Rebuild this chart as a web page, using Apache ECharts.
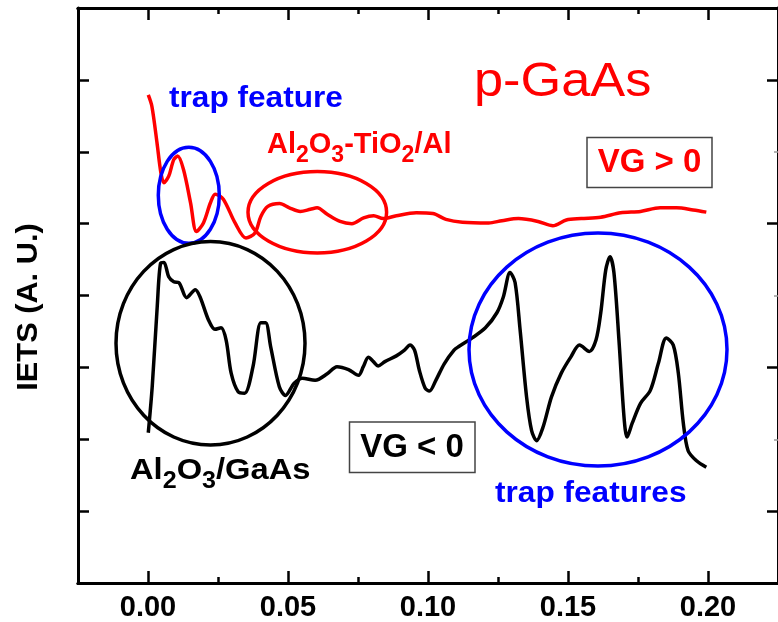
<!DOCTYPE html>
<html>
<head>
<meta charset="utf-8">
<script src="https://cdn.jsdelivr.net/npm/echarts@6/dist/echarts.min.js"></script>
<style>
  html, body { margin: 0; padding: 0; background: #fff; }
  #main { width: 778px; height: 622px; }
</style>
</head>
<body>
<div id="main"></div>
<script>
// 数据：横轴电压（V），纵轴 IETS（任意单位）
var redX = [0.0001, 0.0014, 0.0032, 0.0046, 0.0057, 0.0074, 0.0092, 0.0106, 0.0127, 0.0152, 0.0173, 0.0198, 0.0223, 0.0240, 0.0269, 0.0311, 0.0350, 0.0382, 0.0403, 0.0428, 0.0470, 0.0505, 0.0544, 0.0580, 0.0604, 0.0640, 0.0686, 0.0728, 0.0770, 0.0806, 0.0840, 0.0887, 0.0958, 0.1017, 0.1064, 0.1123, 0.1217, 0.1264, 0.1323, 0.1393, 0.1446, 0.1494, 0.1547, 0.1617, 0.1688, 0.1759, 0.1829, 0.1888, 0.1947, 0.1994];
var redY = [6.79, 6.63, 6.13, 5.71, 5.57, 5.66, 5.89, 5.94, 5.75, 5.29, 4.89, 5.01, 5.29, 5.41, 5.34, 5.01, 4.80, 4.87, 5.10, 5.24, 5.28, 5.22, 5.17, 5.20, 5.22, 5.13, 5.03, 5.00, 5.08, 5.11, 5.07, 5.11, 5.15, 5.14, 5.06, 5.02, 5.01, 5.04, 5.07, 5.03, 4.97, 5.05, 5.07, 5.09, 5.15, 5.17, 5.22, 5.22, 5.19, 5.16];

var blackX = [0.0001, 0.0015, 0.0033, 0.0045, 0.0057, 0.0074, 0.0092, 0.0110, 0.0138, 0.0169, 0.0186, 0.0216, 0.0239, 0.0261, 0.0279, 0.0297, 0.0322, 0.0345, 0.0375, 0.0403, 0.0420, 0.0438, 0.0469, 0.0491, 0.0522, 0.0551, 0.0597, 0.0640, 0.0675, 0.0716, 0.0752, 0.0769, 0.0787, 0.0805, 0.0822, 0.0846, 0.0887, 0.0916, 0.0936, 0.0952, 0.0969, 0.0990, 0.1005, 0.1028, 0.1058, 0.1093, 0.1110, 0.1158, 0.1205, 0.1246, 0.1269, 0.1293, 0.1311, 0.1329, 0.1352, 0.1370, 0.1388, 0.1411, 0.1441, 0.1476, 0.1511, 0.1541, 0.1576, 0.1600, 0.1617, 0.1635, 0.1650, 0.1664, 0.1682, 0.1700, 0.1711, 0.1729, 0.1759, 0.1794, 0.1823, 0.1851, 0.1876, 0.1894, 0.1912, 0.1929, 0.1959, 0.1994];
var blackY = [2.09, 2.73, 3.85, 4.45, 4.46, 4.26, 4.19, 4.18, 3.97, 4.08, 3.98, 3.66, 3.53, 3.55, 3.38, 2.92, 2.66, 2.64, 3.01, 3.62, 3.62, 3.29, 2.73, 2.61, 2.78, 2.85, 2.82, 2.91, 3.01, 2.97, 2.89, 3.01, 3.14, 3.08, 3.02, 3.08, 3.16, 3.24, 3.31, 3.24, 2.96, 2.71, 2.67, 2.82, 3.05, 3.24, 3.29, 3.41, 3.55, 3.76, 3.98, 4.32, 4.18, 3.52, 2.59, 2.12, 1.98, 2.17, 2.59, 2.92, 3.15, 3.31, 3.22, 3.38, 3.76, 4.36, 4.54, 4.32, 3.38, 2.31, 2.03, 2.22, 2.50, 2.68, 3.06, 3.41, 3.31, 2.92, 2.22, 1.84, 1.70, 1.61];

var xMajor = [0, 0.05, 0.10, 0.15, 0.20];
var xMinor = [0.025, 0.075, 0.125, 0.175];
var yLeftTicks = [1, 2, 3, 4, 5, 6, 7];
var yRightMajor = [1, 3, 5, 7];
var yRightMinor = [2, 4, 6];

var FONT = "'Liberation Sans', Arial, sans-serif";
var SX = 1.09; // 原图文字略宽

function zip(xs, ys) {
  var out = [];
  for (var i = 0; i < xs.length; i++) out.push([xs[i], ys[i]]);
  return out;
}

function xAx(pos, ticks, len, labels) {
  return {
    type: 'value', position: pos, min: -0.025, max: 0.225,
    axisLine: { show: true, onZero: false, lineStyle: { color: '#000', width: 3 } },
    axisTick: { show: true, inside: true, length: len, customValues: ticks, lineStyle: { color: '#000', width: 2.5 } },
    axisLabel: labels ? {
      show: true, customValues: ticks, margin: 10,
      formatter: function (v) { return v.toFixed(2); },
      color: '#000', fontFamily: FONT, fontWeight: 'bold', fontSize: 29
    } : { show: false },
    splitLine: { show: false }
  };
}

function yAx(pos, ticks, len, tickColor, tickWidth) {
  return {
    type: 'value', position: pos, min: 0, max: 8,
    axisLine: { show: true, onZero: false, lineStyle: { color: '#000', width: 3 } },
    axisTick: { show: true, inside: true, length: len, customValues: ticks, lineStyle: { color: tickColor, width: tickWidth } },
    axisLabel: { show: false },
    splitLine: { show: false }
  };
}

// 带下标的文字
var sub = { fontSize: 23, fontWeight: 'bold', fontFamily: FONT, verticalAlign: 'top', padding: [14, 0, 0, 0] };
function main(size) {
  return { fontSize: size, fontWeight: 'bold', fontFamily: FONT, verticalAlign: 'top', lineHeight: size };
}

var chart = echarts.init(document.getElementById('main'));

var option = {
  animation: false,
  backgroundColor: '#fff',
  grid: { left: 78, right: -1, top: 8, bottom: 39, containLabel: false },
  xAxis: [
    xAx('bottom', xMajor, 12, true),
    xAx('bottom', xMinor, 6, false),
    xAx('top', xMajor, 12, false),
    xAx('top', xMinor, 6, false)
  ],
  yAxis: [
    yAx('left', yLeftTicks, 11, '#000', 2.5),
    yAx('right', yRightMajor, 11, '#000', 2.5),
    yAx('right', yRightMinor, 4, '#999', 1.5)
  ],
  series: [
    {
      name: 'VG > 0', type: 'line', data: zip(redX, redY),
      showSymbol: false, smooth: 0.3,
      lineStyle: { color: '#ff0000', width: 3.5 }
    },
    {
      name: 'VG < 0', type: 'line', data: zip(blackX, blackY),
      showSymbol: false, smooth: 0.3,
      lineStyle: { color: '#000', width: 3.5 }
    }
  ],
  graphic: [
    // 纵轴标题
    { type: 'text', x: 43, y: 307, rotation: Math.PI / 2, scaleX: 1.06, style: { text: 'IETS (A. U.)', fill: '#000', font: 'bold 29px ' + FONT, align: 'center', verticalAlign: 'bottom' } },
    // 圈
    { type: 'ellipse', shape: { cx: 188.8, cy: 195.3, rx: 30.5, ry: 48 }, style: { fill: 'none', stroke: '#0000ff', lineWidth: 3.5 }, z: 10 },
    { type: 'ellipse', shape: { cx: 317.3, cy: 212.3, rx: 69.3, ry: 40.7 }, style: { fill: 'none', stroke: '#ff0000', lineWidth: 3.5 }, z: 10 },
    { type: 'ellipse', shape: { cx: 210.5, cy: 343.3, rx: 94.5, ry: 101.7 }, style: { fill: 'none', stroke: '#000', lineWidth: 3.5 }, z: 10 },
    { type: 'ellipse', shape: { cx: 598, cy: 349.5, rx: 129, ry: 116.5 }, style: { fill: 'none', stroke: '#0000ff', lineWidth: 3.5 }, z: 10 },
    // 框
    { type: 'rect', shape: { x: 587, y: 137.5, width: 125, height: 50 }, style: { fill: '#fff', stroke: '#444', lineWidth: 1.5 }, z: 10 },
    { type: 'rect', shape: { x: 349.5, y: 422, width: 125.5, height: 50.5 }, style: { fill: '#fff', stroke: '#444', lineWidth: 1.5 }, z: 10 },
    // 文字
    { type: 'text', x: 169, y: 84, scaleX: SX, z: 11, style: { text: 'trap feature', fill: '#0000ff', font: 'bold 29px ' + FONT, verticalAlign: 'top' } },
    { type: 'text', x: 474, y: 59, scaleX: SX, z: 11, style: { text: 'p-GaAs', fill: '#ff0000', font: '48px ' + FONT, verticalAlign: 'top' } },
    { type: 'text', x: 267, y: 130, z: 11, style: {
        text: '{m|Al}{s|2}{m|O}{s|3}{m|-TiO}{s|2}{m|/Al}', fill: '#ff0000', verticalAlign: 'top',
        rich: { m: main(29), s: sub } } },
    { type: 'text', x: 649.5, y: 163, z: 11, style: { text: 'VG > 0', fill: '#ff0000', font: 'bold 33px ' + FONT, align: 'center', verticalAlign: 'middle' } },
    { type: 'text', x: 412, y: 447.5, z: 11, style: { text: 'VG < 0', fill: '#000', font: 'bold 33px ' + FONT, align: 'center', verticalAlign: 'middle' } },
    { type: 'text', x: 130, y: 456, scaleX: SX, z: 11, style: {
        text: '{m|Al}{s|2}{m|O}{s|3}{m|/GaAs}', fill: '#000', verticalAlign: 'top',
        rich: { m: main(30), s: sub } } },
    { type: 'text', x: 495, y: 479, scaleX: SX, z: 11, style: { text: 'trap features', fill: '#0000ff', font: 'bold 29px ' + FONT, verticalAlign: 'top' } }
  ]
};

chart.setOption(option);
</script>
</body>
</html>
